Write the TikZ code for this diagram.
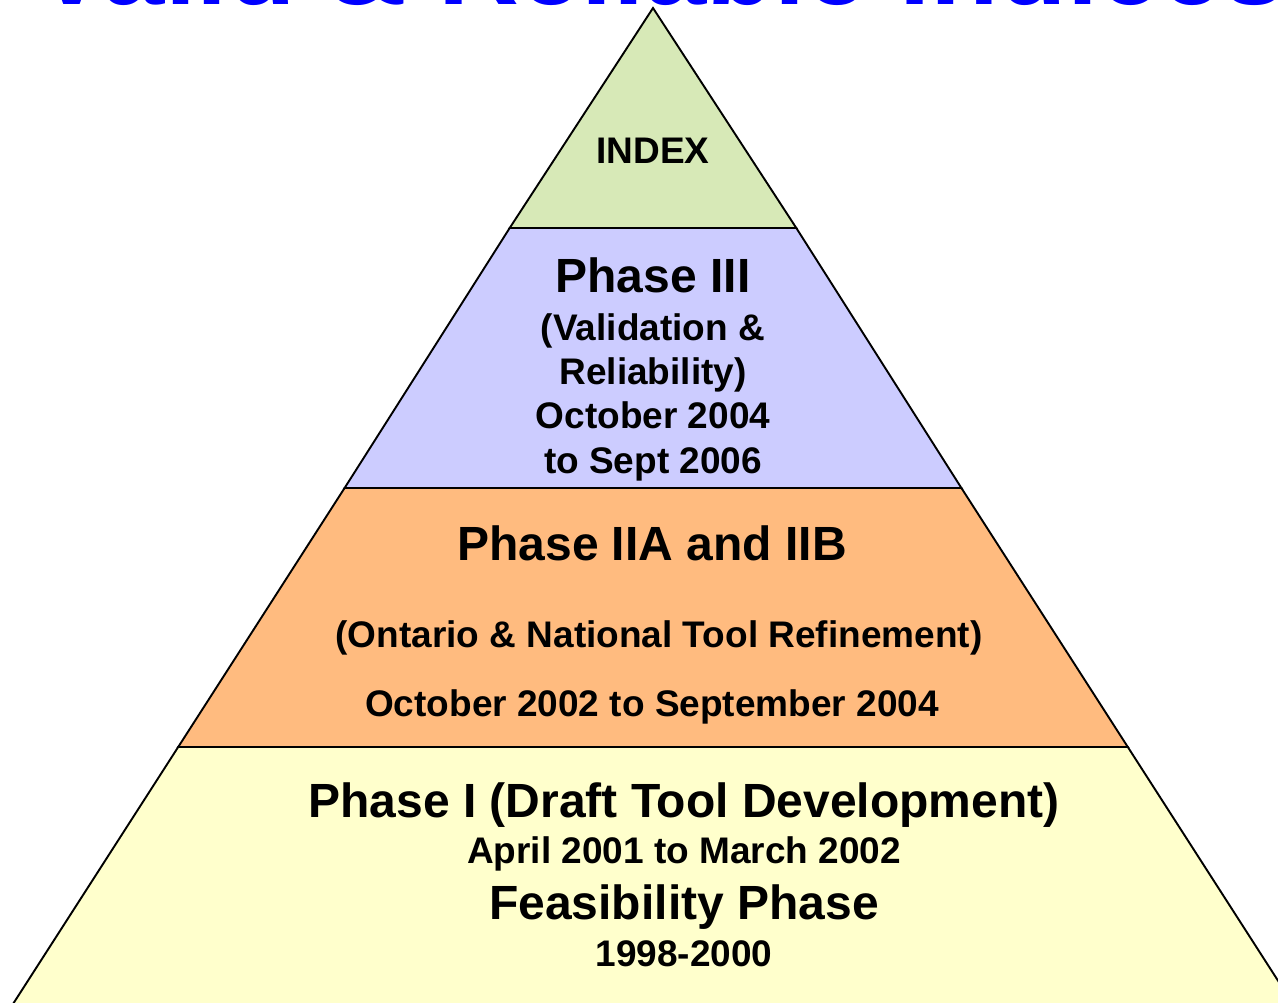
\documentclass[tikz,border=0pt]{standalone}
\usepackage{fontspec}
\setmainfont{Liberation Sans}
\definecolor{topgreen}{HTML}{D7E9B7}
\definecolor{lavender}{HTML}{CCCCFF}
\definecolor{peach}{HTML}{FFBB7F}
\definecolor{paleyellow}{HTML}{FFFFCC}
\definecolor{titleblue}{HTML}{0000FF}
\begin{document}
\begin{tikzpicture}[x=1pt,y=-1pt,
  layer/.style={draw=black, line width=1.9pt, line join=miter},
  bigtext/.style={font=\bfseries\fontsize{48}{52}\selectfont, anchor=base, inner sep=0pt},
  smalltext/.style={font=\bfseries\fontsize{37}{42}\selectfont, anchor=base, inner sep=0pt},
  titletext/.style={font=\bfseries\fontsize{112}{120}\selectfont, text=titleblue, anchor=base west, inner sep=0pt}]
\useasboundingbox (0,0) rectangle (1278,1003);
\clip (0,0) rectangle (1278,1003);
\fill[white] (0,0) rectangle (1278,1003);
% title (cut off at the top edge, as in the reference)
\node[titletext] (title) at (34,5) {Valid \& Reliable Indices};
% pyramid layers
\coordinate (apex) at (653,8);
\filldraw[layer, fill=paleyellow] (178.2,747) -- (1127.8,747) -- (1302,1018) -- (4,1018) -- cycle;
\filldraw[layer, fill=peach] (344.6,488) -- (961.4,488) -- (1127.8,747) -- (178.2,747) -- cycle;
\filldraw[layer, fill=lavender] (509.7,228) -- (796.3,228) -- (961.4,488) -- (344.6,488) -- cycle;
\filldraw[layer, fill=topgreen] (apex) -- (796.3,228) -- (509.7,228) -- cycle;
% texts
\node[smalltext] (index) at (653,164) {INDEX};
\node[bigtext] (p3) at (653,293) {Phase III};
\node[smalltext] (p3a) at (653,340) {(Validation \&};
\node[smalltext] (p3b) at (653,384) {Reliability)};
\node[smalltext] (p3c) at (653,428) {October 2004};
\node[smalltext] (p3d) at (653,473) {to Sept 2006};
\node[bigtext] (p2) at (652,560) {Phase IIA and IIB};
\node[smalltext] (p2a) at (659,647) {(Ontario \& National Tool Refinement)};
\node[smalltext] (p2b) at (652,716) {October 2002 to September 2004};
\node[bigtext] (p1) at (684,817) {Phase I (Draft Tool Development)};
\node[smalltext] (p1a) at (684,863) {April 2001 to March 2002};
\node[bigtext] (f) at (684,919) {Feasibility Phase};
\node[smalltext] (fa) at (684,966) {1998-2000};
\end{tikzpicture}
\end{document}
